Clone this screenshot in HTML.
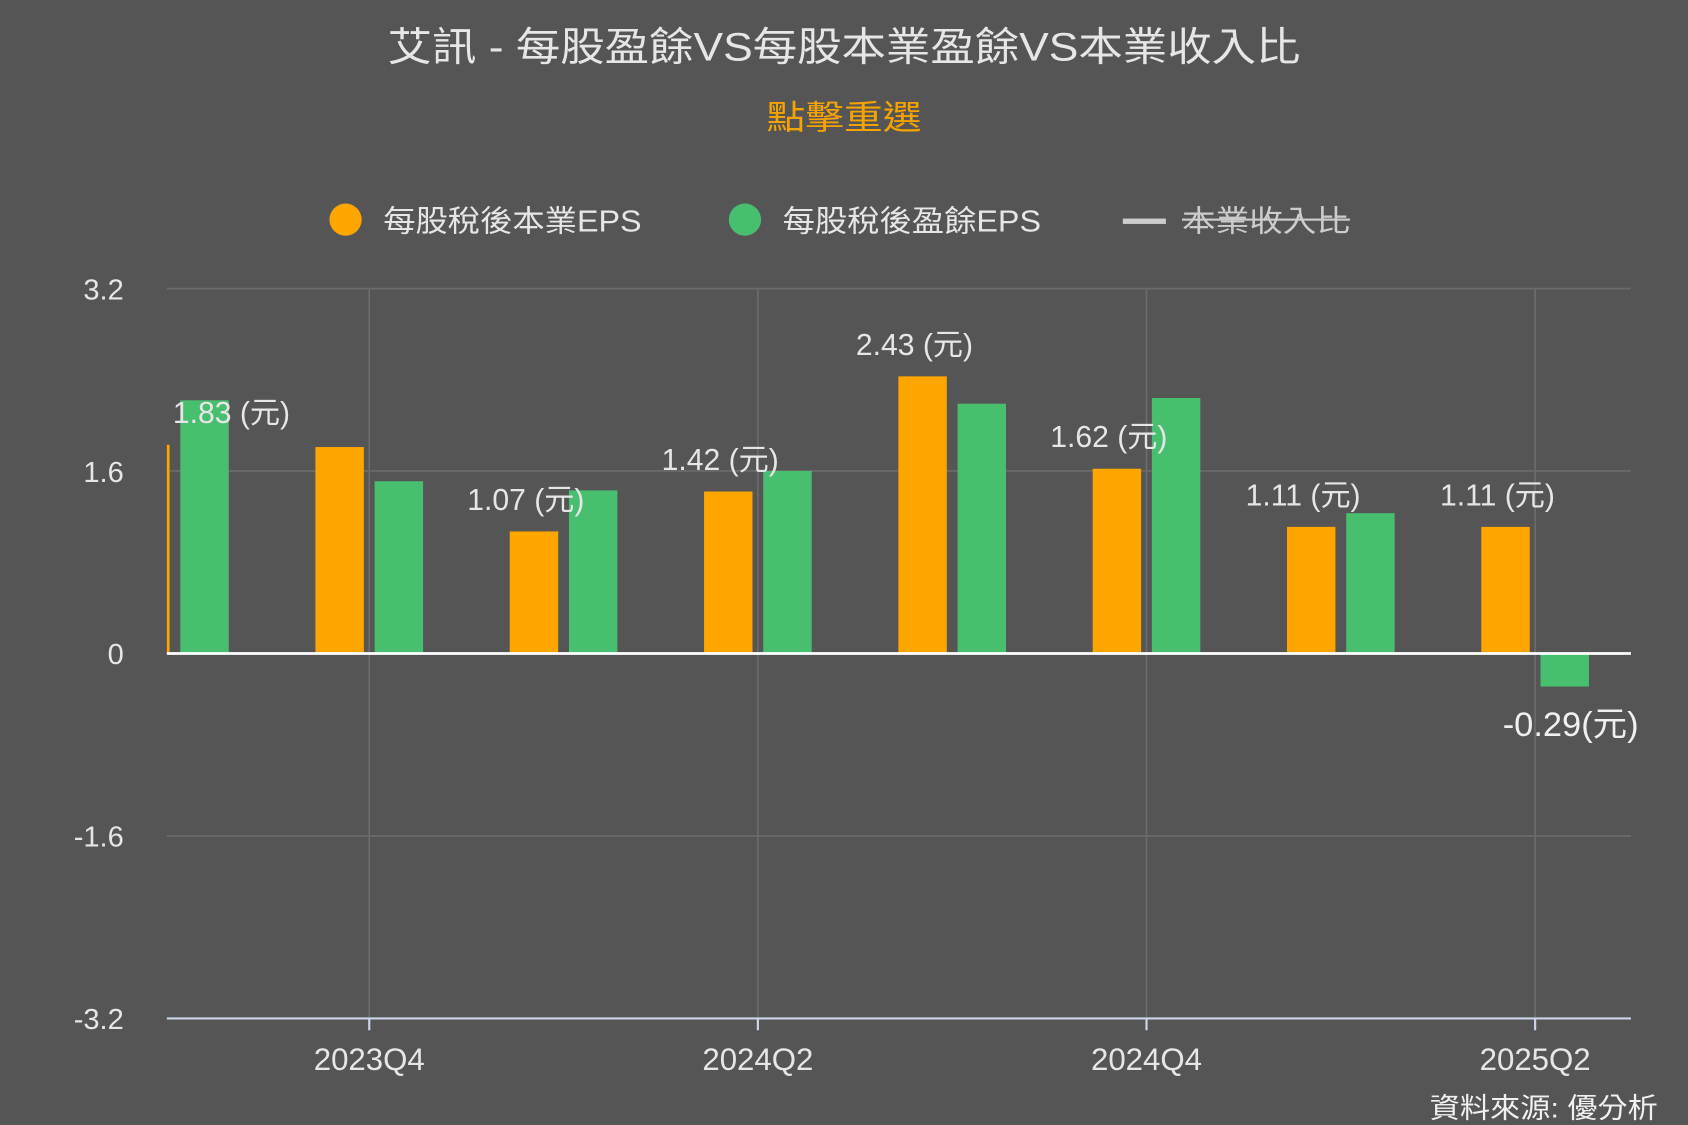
<!DOCTYPE html>
<html><head><meta charset="utf-8">
<style>
html,body{margin:0;padding:0;background:#555555;}
svg{display:block;}
text{font-family:"Liberation Sans","Noto Sans CJK TC",sans-serif;}
</style></head>
<body>
<svg id="chart" width="1688" height="1125" viewBox="0 0 1568 1045" preserveAspectRatio="none" xmlns="http://www.w3.org/2000/svg">
<rect x="0" y="0" width="1568" height="1045" fill="#555555"/>
<text x="360" y="56" font-size="37" fill="#e6e6e6" textLength="848" lengthAdjust="spacingAndGlyphs">艾訊 - 每股盈餘VS每股本業盈餘VS本業收入比</text>
<text x="712" y="120" font-size="31" fill="#f5a300" textLength="144" lengthAdjust="spacingAndGlyphs">點擊重選</text>
<g>
<g>
<circle cx="321" cy="204" r="15" fill="#ffa500"/>
<text x="356" y="215" font-size="28" fill="#e6e6e6" textLength="240" lengthAdjust="spacingAndGlyphs">每股稅後本業EPS</text>
</g>
<g>
<circle cx="692" cy="204" r="15" fill="#48bf6f"/>
<text x="727" y="215" font-size="28" fill="#e6e6e6" textLength="240" lengthAdjust="spacingAndGlyphs">每股稅後盈餘EPS</text>
</g>
<g>
<rect x="1043" y="203" width="40" height="5" fill="#cccccc"/>
<text x="1098" y="215" font-size="28" fill="#cccccc" textLength="156" lengthAdjust="spacingAndGlyphs">本業收入比</text>
<rect x="1098" y="203" width="156" height="2" fill="#cccccc"/>
</g>
</g>
<g id="grid"></g>
<g id="bars"></g>
<g id="labels"></g>
<g id="axes"></g>
<text x="1328" y="1038" font-size="26" fill="#f0f0f0" textLength="212" lengthAdjust="spacingAndGlyphs">資料來源: 優分析</text>
</svg>
<script>
const categories = ["2023Q3","2023Q4","2024Q1","2024Q2","2024Q3","2024Q4","2025Q1","2025Q2"];
const coreEps = [1.83,1.81,1.07,1.42,2.43,1.62,1.11,1.11];
const eps = [2.22,1.51,1.43,1.60,2.19,2.24,1.23,-0.29];
const coreLabels = ["1.83 (元)",null,"1.07 (元)","1.42 (元)","2.43 (元)","1.62 (元)","1.11 (元)","1.11 (元)"];
const epsLabels = [null,null,null,null,null,null,null,"-0.29(元)"];
const yTicks = [3.2,1.6,0,-1.6,-3.2];
const xTickLabels = ["2023Q4","2024Q2","2024Q4","2025Q2"];

const NS="http://www.w3.org/2000/svg";
const L=155,R=1515,TOP=268,BOT=946;
const yMin=-3.2,yMax=3.2;
const y=v=>TOP+(yMax-v)/(yMax-yMin)*(BOT-TOP);
const step=180.5, x0=162.5;
const x=i=>x0+i*step;
function mk(tag,attrs,parent){const e=document.createElementNS(NS,tag);for(const k in attrs)e.setAttribute(k,attrs[k]);parent.appendChild(e);return e;}
const grid=document.getElementById('grid'),bars=document.getElementById('bars'),labels=document.getElementById('labels'),axes=document.getElementById('axes');

yTicks.forEach(t=>{
  if(t!==0&&t!==yMin){
    const g=mk('line',{x1:L,x2:R,y1:y(t),y2:y(t),stroke:'#6c6c6c','stroke-width':1.5},grid);
    
    
  }
  const tx=mk('text',{x:115,y:y(t)+10,'text-anchor':'end','font-size':27,fill:'#e6e6e6'},axes);
  tx.textContent=String(t);
  
  
});
xTickLabels.forEach(lbl=>{
  const i=categories.indexOf(lbl);
  const vx=x(i);
  const g=mk('line',{x1:vx,x2:vx,y1:TOP,y2:BOT,stroke:'#6c6c6c','stroke-width':1.5},grid);
  
  
  const tk=mk('line',{x1:vx,x2:vx,y1:BOT,y2:BOT+11,stroke:'#ccd6eb','stroke-width':2},axes);
  
  
  const tx=mk('text',{x:vx,y:994,'text-anchor':'middle','font-size':29,fill:'#e6e6e6'},axes);
  tx.textContent=lbl;
  
  
});
const bw=45;
categories.forEach((c,i)=>{
  const cx=x(i);
  let ox=cx-50, ow=bw;
  if(ox<L){ow=ox+bw-L;ox=L;}
  const v=coreEps[i];
  if(ow>0){
    const b=mk('rect',{x:ox,y:Math.min(y(v),y(0)),width:ow,height:Math.abs(y(v)-y(0)),fill:'#ffa500'},bars);
    
    
  }
  const w=eps[i];
  const g=mk('rect',{x:cx+5,y:Math.min(y(w),y(0)),width:bw,height:Math.abs(y(w)-y(0)),fill:'#48bf6f'},bars);
  
  
  if(coreLabels[i]){
    const lx=Math.max(cx-35, L+60);
    const t=mk('text',{x:lx,y:y(v)-20,'text-anchor':'middle','font-size':28,fill:'#e6e6e6'},labels);
    t.textContent=coreLabels[i];
    
    
  }
  if(epsLabels[i]){
    const t=mk('text',{x:cx+33,y:(w<0?y(w)+46:y(w)-20),'text-anchor':'middle','font-size':32,fill:'#f0f0f0'},labels);
    t.textContent=epsLabels[i];
    
    
  }
});
const z=mk('line',{x1:L,x2:R,y1:y(0),y2:y(0),stroke:'#ffffff','stroke-width':2.5},axes);


const ax=mk('line',{x1:L,x2:R,y1:BOT,y2:BOT,stroke:'#ccd6eb','stroke-width':2},axes);


</script>
</body></html>
